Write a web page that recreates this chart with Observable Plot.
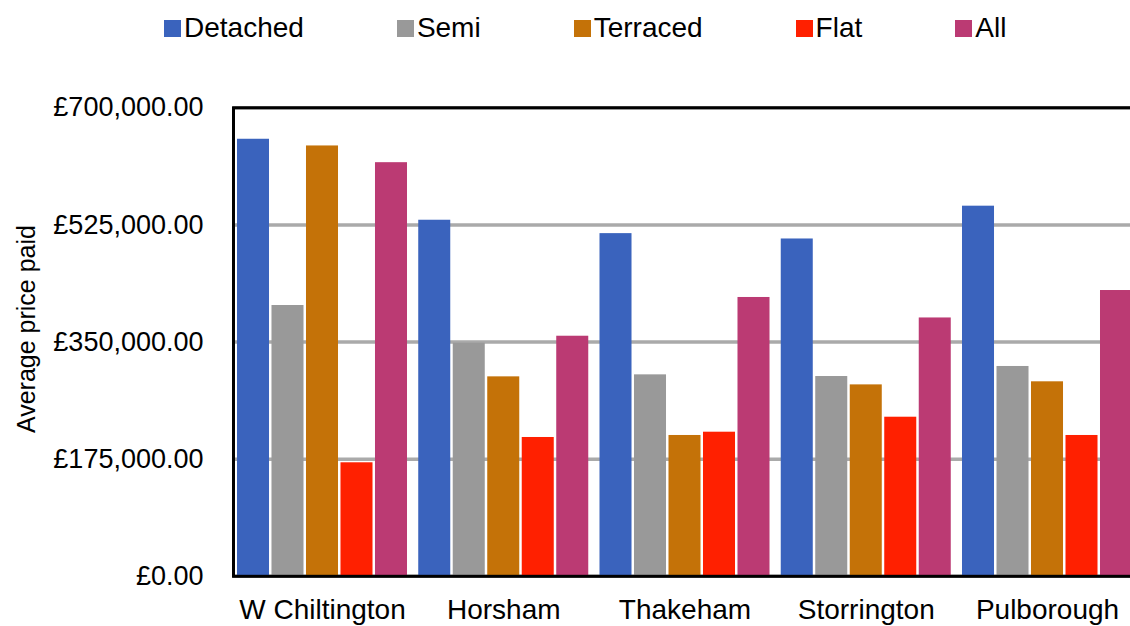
<!DOCTYPE html>
<html>
<head>
<meta charset="utf-8">
<script src="https://cdn.jsdelivr.net/npm/d3@7"></script>
<script src="https://cdn.jsdelivr.net/npm/@observablehq/plot@0.6"></script>
<style>
  html, body { margin: 0; padding: 0; background: #fff; overflow: hidden; width: 1130px; height: 626px; }
  body { font-family: "Liberation Sans", Arial, Helvetica, sans-serif; color: #000; }
  #legend { position: relative; height: 60px; display: flex; align-items: flex-start; gap: 93px; padding-left: 164px; box-sizing: border-box; }
  .item { display: flex; align-items: center; margin-top: 12px; font-size: 28px; line-height: 32px; }
  .sw { width: 17px; height: 17px; margin-right: 3px; flex: none; }
  #chart { width: 1136px; }
  #chart svg { display: block; overflow: hidden; max-width: none !important; width: 1136px; height: 566px; }
</style>
</head>
<body>
<div id="legend"></div>
<div id="chart"></div>
<script>
const towns = ["W Chiltington", "Horsham", "Thakeham", "Storrington", "Pulborough"];
const types = ["Detached", "Semi", "Terraced", "Flat", "All"];
const detached = [653000, 532000, 512000, 504000, 553000];
const semi     = [404600, 348300, 301000, 298500, 313500];
const terraced = [643000, 298000, 210400, 286000, 290600];
const flat     = [169600, 207400, 215300, 237700, 210400];
const all      = [618000, 358700, 416600, 386000, 427000];
const yTicks = [0, 175000, 350000, 525000, 700000];
const colors = ["#3a63bd", "#999999", "#c47208", "#ff2000", "#bb3a73"];

const series = [detached, semi, terraced, flat, all];
const rows = [];
types.forEach((t, i) => towns.forEach((town, j) => rows.push({town, type: t, value: series[i][j]})));

// legend
const legend = document.getElementById("legend");
types.forEach((t, i) => {
  const it = document.createElement("div");
  it.className = "item";
  const sw = document.createElement("span");
  sw.className = "sw";
  sw.style.background = colors[i];
  it.appendChild(sw);
  it.appendChild(document.createTextNode(t));
  legend.appendChild(it);
});

const fmt = d3.format(",.2f");
const barStep = 34.5, barW = 32, band = 170;

const marks = [
  Plot.gridY(yTicks, {stroke: "#aaaaaa", strokeOpacity: 1, strokeWidth: 3.5})
];
types.forEach((t, i) => {
  marks.push(Plot.barY(rows.filter(d => d.type === t), {
    x: "town", y: "value", fill: "type",
    insetLeft: i * barStep, insetRight: band - i * barStep - barW
  }));
});
marks.push(
  Plot.frame({stroke: "#000", strokeWidth: 3}),
  Plot.axisY({ticks: yTicks, tickFormat: d => "£" + fmt(d), tickSize: 0, tickPadding: 30, fontSize: 27, label: null}),
  Plot.axisX({tickSize: 0, tickPadding: 23, fontSize: 28, label: null}),
  Plot.text(["Average price paid"], {frameAnchor: "left", rotate: -90, textAnchor: "middle", lineAnchor: "bottom", dx: -199, dy: -13, fontSize: 25, fill: "#000"})
);

const chart = Plot.plot({
  width: 1136,
  height: 566,
  marginTop: 47.3,
  marginBottom: 50.2,
  marginLeft: 233,
  marginRight: 0,
  style: {fontFamily: '"Liberation Sans", Arial, Helvetica, sans-serif', color: "#000", background: "#fff", overflow: "hidden", maxWidth: "none"},
  x: {domain: towns, paddingInner: 0.062, paddingOuter: 0.022, round: false},
  y: {domain: [0, 700000]},
  color: {domain: types, range: colors},
  marks
});
document.getElementById("chart").appendChild(chart);
</script>
</body>
</html>
